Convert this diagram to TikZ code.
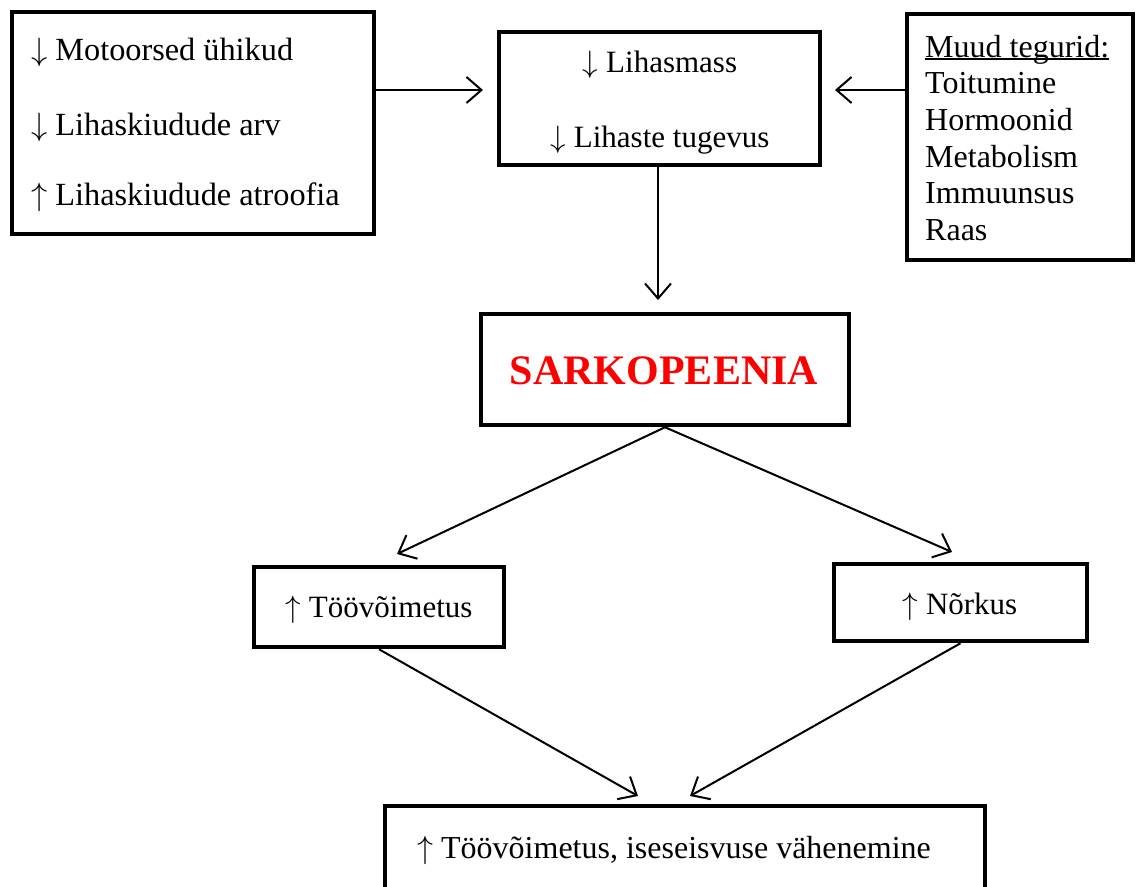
\RequirePackage{fix-cm}
\documentclass[tikz,border=0pt]{standalone}
\usepackage{fontspec}
\setmainfont{Liberation Serif}
\usetikzlibrary{arrows.meta}
\newcommand{\myul}[1]{\setbox0\hbox{#1}\rlap{\rule[-2.8pt]{\wd0}{1.6pt}}\box0}
\newcommand{\dn}{$\downarrow$}
\newcommand{\upa}{$\uparrow$}
\definecolor{sarkred}{RGB}{255,0,0}
\begin{document}
\begin{tikzpicture}[x=1pt,y=-1pt,
  box/.style={draw=black, line width=4.5pt, inner sep=0pt},
  arr/.style={line width=2pt, -{Straight Barb[length=15pt,width=26pt]}},
  txt/.style={inner sep=0pt, font=\fontsize{31}{36}\selectfont},
  txtl/.style={inner sep=0pt, font=\fontsize{32.3}{36}\selectfont},
  txtr/.style={inner sep=0pt, font=\fontsize{32}{36}\selectfont},
  bigred/.style={inner sep=0pt, text=sarkred, font=\fontsize{42}{46}\selectfont\bfseries}]
\path[use as bounding box] (0,0) rectangle (1137,886);
\clip (0,0) rectangle (1137,886);
\fill[white] (0,0) rectangle (1137,886);

% boxes
\node[box, minimum width=362pt, minimum height=222pt] (mot) at (193,123) {};
\node[box, minimum width=321pt, minimum height=133pt] (las) at (659.5,98.5) {};
\node[box, minimum width=226pt, minimum height=246pt] (muud) at (1020,137) {};
\node[box, minimum width=368pt, minimum height=111pt] (sark) at (665,369.5) {};
\node[box, minimum width=250pt, minimum height=80pt] (too) at (379,607) {};
\node[box, minimum width=253pt, minimum height=77pt] (nor) at (960.5,602.5) {};
\node[box, minimum width=600pt, minimum height=100pt] (bot) at (685,856) {};

% texts
\node[txtl, anchor=base west] (m1) at (31,60) {\dn{} Motoorsed ühikud};
\node[txtl, anchor=base west] (m2) at (31,135) {\dn{} Lihaskiudude arv};
\node[txtl, anchor=base west] (m3) at (31,205) {\upa{} Lihaskiudude atroofia};

\node[txt, anchor=base] (l1) at (660,72) {\dn{} Lihasmass};
\node[txt, anchor=base] (l2) at (660,147) {\dn{} Lihaste tugevus};

\node[txtr, anchor=base west] (u0) at (925,57) {\myul{Muud tegurid:}};
\node[txtr, anchor=base west] (u1) at (925,93) {Toitumine};
\node[txtr, anchor=base west] (u2) at (925,130) {Hormoonid};
\node[txtr, anchor=base west] (u3) at (925,167) {Metabolism};
\node[txtr, anchor=base west] (u4) at (925,203) {Immuunsus};
\node[txtr, anchor=base west] (u5) at (925,240) {Raas};

\node[bigred, anchor=base] (st) at (664,384) {SARKOPEENIA};
\node[txt, anchor=base] (tt) at (379,617) {\upa{} Töövõimetus};
\node[txt, anchor=base] (nt) at (960,614) {\upa{} Nõrkus};
\node[txtr, anchor=base] (bt) at (674,858) {\upa{} Töövõimetus, iseseisvuse vähenemine};

% connectors
\coordinate (a1) at (483,90);
\coordinate (a2) at (835,90);
\coordinate (a3) at (658,300);
\coordinate (a4) at (397,554);
\coordinate (a5) at (952,552);
\coordinate (a6) at (638,796);
\coordinate (a7) at (690,796);
\draw[arr] (mot.east |- a1) -- (a1);
\draw[arr] (muud.west |- a2) -- (a2);
\draw[arr] (las.south -| a3) -- (a3);
\draw[arr] (sark.south) -- (a4);
\draw[arr] (sark.south) -- (a5);
\draw[arr] (too.south) -- (a6);
\draw[arr] (nor.south) -- (a7);
\end{tikzpicture}
\end{document}
